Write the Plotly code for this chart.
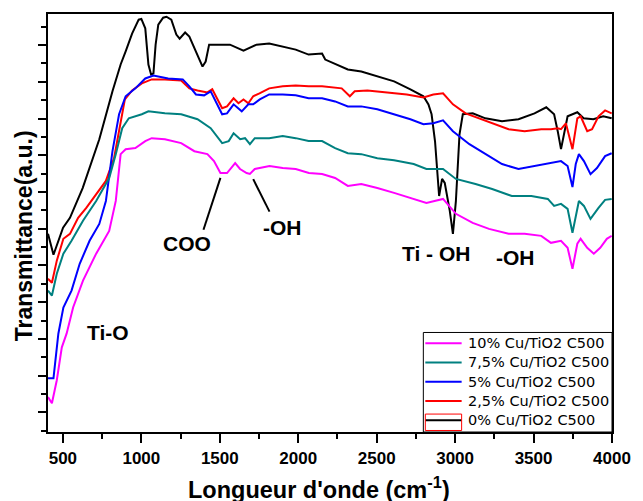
import plotly.graph_objects as go

# ---- data (wavenumber cm-1, transmittance a.u.) ----
wn_0 = [405, 440, 501, 545, 626, 732, 816, 868, 900, 941, 983, 1000, 1025, 1045, 1062, 1077, 1091, 1108,
        1139, 1160, 1191, 1223, 1244, 1279, 1306, 1338, 1369, 1390, 1410, 1432, 1484, 1565, 1651, 1734,
        1815, 1901, 1984, 2066, 2152, 2172, 2235, 2316, 2402, 2504, 2611, 2715, 2798, 2830, 2850, 2872,
        2898, 2917, 2934, 2966, 2986, 3005, 3028, 3049, 3112, 3193, 3299, 3404, 3506, 3581, 3631, 3654,
        3675, 3694, 3717, 3779, 3819, 3881, 3944, 3998]
t_0 = [10.72, 9.58, 11.05, 11.59, 13.21, 15.87, 18.48, 19.94, 20.65, 21.62, 22.38, 22.42, 21.91, 19.94,
       19.40, 19.45, 21.02, 22.11, 22.49, 22.54, 22.38, 21.57, 21.35, 21.68, 21.46, 20.81, 20.21, 19.83,
       20.10, 21.02, 21.02, 21.02, 20.70, 21.02, 21.08, 20.92, 20.75, 20.48, 20.54, 20.21, 19.99, 19.67,
       19.56, 19.29, 19.02, 18.59, 18.21, 17.77, 17.23, 15.76, 12.78, 13.71, 13.49, 11.97, 10.72, 12.51,
       16.14, 17.23, 17.28, 17.01, 16.85, 16.96, 17.28, 17.61, 17.23, 16.31, 15.33, 16.14, 17.12, 17.34,
       17.01, 16.96, 17.12, 17.01]

wn_25 = [405, 430, 461, 503, 545, 597, 649, 712, 774, 826, 868, 895, 941, 1003, 1066, 1150, 1254, 1306,
         1358, 1421, 1452, 1484, 1515, 1546, 1588, 1619, 1651, 1682, 1713, 1753, 1815, 1901, 1984, 2066,
         2152, 2277, 2329, 2360, 2441, 2567, 2692, 2798, 2861, 2923, 2986, 3067, 3153, 3236, 3341, 3443,
         3549, 3611, 3654, 3675, 3706, 3748, 3779, 3800, 3842, 3873, 3914, 3956, 3998]
t_25 = [8.27, 8.06, 9.26, 10.45, 10.72, 11.59, 12.13, 12.89, 13.60, 14.84, 16.69, 18.04, 18.53, 18.91,
        19.13, 19.13, 19.07, 18.64, 18.53, 18.42, 18.59, 18.10, 17.56, 17.66, 18.10, 17.83, 18.04, 17.83,
        18.21, 18.37, 18.64, 18.75, 18.80, 18.75, 18.75, 18.64, 18.21, 18.48, 18.53, 18.42, 18.31, 18.15,
        18.31, 18.37, 17.77, 17.28, 17.01, 16.74, 16.42, 16.31, 16.42, 16.42, 16.47, 16.42, 16.74, 15.33,
        17.01, 17.12, 16.31, 16.42, 17.12, 17.44, 17.28]

wn_5 = [405, 440, 471, 503, 555, 607, 670, 732, 774, 816, 858, 900, 962, 1025, 1077, 1171, 1264, 1306,
        1348, 1400, 1442, 1473, 1515, 1546, 1588, 1640, 1682, 1713, 1755, 1815, 1901, 1984, 2066, 2152,
        2235, 2316, 2402, 2504, 2611, 2715, 2798, 2861, 2923, 2986, 3091, 3193, 3299, 3404, 3506, 3611,
        3675, 3717, 3748, 3769, 3789, 3821, 3863, 3904, 3956, 3998]
t_5 = [2.86, 2.86, 5.28, 6.71, 7.63, 9.09, 10.34, 11.26, 12.51, 15.22, 17.23, 18.21, 18.64, 19.18, 19.34,
       19.18, 19.13, 18.75, 18.31, 18.26, 18.48, 17.93, 17.23, 17.28, 17.77, 17.39, 17.77, 17.77, 18.04,
       18.31, 18.31, 18.26, 18.10, 18.10, 17.93, 17.66, 17.66, 17.50, 17.23, 16.96, 16.69, 16.74, 16.90,
       16.31, 15.60, 15.06, 14.52, 14.25, 14.41, 14.57, 14.68, 14.41, 13.27, 14.52, 15.06, 14.68, 13.97,
       14.30, 14.95, 15.11]

wn_75 = [405, 430, 461, 503, 555, 628, 712, 795, 837, 878, 920, 1003, 1045, 1150, 1254, 1358, 1442, 1515,
         1557, 1588, 1630, 1661, 1692, 1723, 1815, 1901, 1984, 2066, 2152, 2235, 2316, 2402, 2504, 2611,
         2736, 2817, 2923, 3005, 3130, 3236, 3361, 3486, 3591, 3631, 3675, 3717, 3748, 3789, 3821, 3863,
         3914, 3956, 3998]
t_75 = [7.63, 7.36, 8.55, 9.64, 10.34, 11.43, 12.51, 13.76, 15.06, 16.47, 17.01, 17.23, 17.39, 17.28,
        17.23, 16.96, 16.47, 15.66, 15.77, 16.20, 15.87, 15.93, 15.60, 15.93, 15.93, 16.04, 15.93, 15.77,
        15.77, 15.39, 15.11, 15.06, 14.84, 14.73, 14.52, 14.25, 14.25, 13.71, 13.43, 13.16, 12.78, 12.78,
        12.62, 12.24, 12.35, 12.08, 10.78, 12.51, 12.24, 11.53, 12.13, 12.57, 12.62]

wn_10 = [405, 430, 461, 493, 524, 565, 628, 712, 795, 837, 868, 900, 962, 1025, 1066, 1150, 1254, 1338,
         1421, 1463, 1504, 1546, 1598, 1629, 1671, 1692, 1723, 1817, 1901, 1984, 2068, 2152, 2235, 2316,
         2402, 2504, 2611, 2715, 2817, 2923, 3005, 3112, 3216, 3341, 3443, 3549, 3611, 3675, 3717, 3748,
         3779, 3800, 3842, 3884, 3925, 3967, 3998]
t_10 = [1.83, 1.50, 2.75, 4.54, 5.30, 6.71, 8.17, 9.64, 10.88, 12.51, 15.06, 15.33, 15.39, 15.77, 15.93,
        15.87, 15.66, 15.22, 15.06, 14.68, 14.03, 14.03, 14.57, 14.25, 14.03, 13.98, 14.25, 14.41, 14.30,
        14.25, 14.03, 13.98, 13.76, 13.33, 13.43, 13.22, 12.95, 12.67, 12.40, 12.62, 11.81, 11.32, 10.99,
        10.72, 10.72, 10.61, 10.23, 10.34, 9.96, 8.82, 10.18, 10.45, 9.96, 9.64, 9.96, 10.45, 10.61]

series_names = ["0% Cu/TiO2 C500", "2,5% Cu/TiO2 C500", "5% Cu/TiO2 C500",
                "7,5% Cu/TiO2 C500", "10% Cu/TiO2 C500"]
series_x = [wn_0, wn_25, wn_5, wn_75, wn_10]
series_y = [t_0, t_25, t_5, t_75, t_10]
series_colors = ["#000000", "#FF0000", "#0000FF", "#008080", "#FF00FF"]

# band labels (text, wavenumber, transmittance)
band_labels = ["COO", "-OH", "Ti - OH", "-OH", "Ti-O"]
band_x = [1291, 1897, 2878, 3387, 787]
band_y = [10.18, 11.05, 9.65, 9.44, 5.37]
# pointer lines (from label to band)
ptr_x0 = [1396, 1817]
ptr_y0 = [10.94, 11.93]
ptr_x1 = [1504, 1713]
ptr_y1 = [13.77, 13.70]

FONT = "Liberation Sans, Arial, sans-serif"
LEG_FONT = "DejaVu Sans, Liberation Sans, sans-serif"

fig = go.Figure()
for nm, xs, ys, c in zip(series_names, series_x, series_y, series_colors):
    fig.add_trace(go.Scatter(x=xs, y=ys, mode="lines", name=nm, showlegend=False,
                             line=dict(color=c, width=2)))

for txt, bx, by in zip(band_labels, band_x, band_y):
    fig.add_annotation(x=bx, y=by, xref="x", yref="y", text=txt, showarrow=False,
                       font=dict(family=FONT, size=21, color="black", weight="bold"),
                       xanchor="center", yanchor="middle")

for x0, y0, x1, y1 in zip(ptr_x0, ptr_y0, ptr_x1, ptr_y1):
    fig.add_shape(type="line", xref="x", yref="y", x0=x0, y0=y0, x1=x1, y1=y1,
                  line=dict(color="black", width=2))

# ---- legend box (drawn in paper coordinates, Origin style) ----
leg_x0, leg_x1, leg_y0, leg_y1 = 0.6655, 1.0, 0.0, 0.2381
fig.add_shape(type="rect", xref="paper", yref="paper", x0=leg_x0, x1=leg_x1, y0=leg_y0, y1=leg_y1,
              line=dict(color="black", width=1), fillcolor="white", layer="above")
row_y = [0.2126, 0.1664, 0.1202, 0.0740, 0.0279]
leg_order = [4, 3, 2, 1, 0]  # 10% on top ... 0% at bottom
samp_x0, samp_x1, text_x = 0.669, 0.7334, 0.7404
for ry, idx in zip(row_y, leg_order):
    fig.add_shape(type="line", xref="paper", yref="paper", x0=samp_x0, x1=samp_x1, y0=ry, y1=ry,
                  line=dict(color=series_colors[idx], width=2), layer="above")
    fig.add_annotation(xref="paper", yref="paper", x=text_x, y=ry, text=series_names[idx],
                       showarrow=False, xanchor="left", yanchor="middle",
                       font=dict(family=LEG_FONT, size=14.5, color="black"))
# red frame around the 0% sample (as in the original)
fig.add_shape(type="rect", xref="paper", yref="paper", x0=samp_x0, x1=samp_x1, y0=0.0036, y1=0.0429,
              line=dict(color="#FF0000", width=1), layer="above")

# axis titles
fig.add_annotation(xref="paper", yref="paper", x=0.481, y=-0.135,
                   text="Longueur d'onde (cm<sup>-1</sup>)", showarrow=False,
                   font=dict(family=FONT, size=23.5, color="black", weight="bold"),
                   xanchor="center", yanchor="middle")
fig.add_annotation(xref="paper", yref="paper", x=-0.043, y=0.47,
                   text="Transmittance(a.u.)", showarrow=False, textangle=-90,
                   font=dict(family=FONT, size=23, color="black", weight="bold"),
                   xanchor="center", yanchor="middle")

fig.update_layout(
    width=643, height=501, autosize=False,
    margin=dict(l=48, r=21, t=12, b=69),
    paper_bgcolor="white", plot_bgcolor="white",
    showlegend=False,
    font=dict(family=FONT, color="black"),
)

fig.update_xaxes(range=[405, 4000], showgrid=False, zeroline=False,
                 showline=True, linecolor="black", linewidth=2, mirror=True,
                 ticks="outside", ticklen=9, tickwidth=1.5, tickcolor="black",
                 tick0=500, dtick=500,
                 minor=dict(dtick=250, ticks="outside", ticklen=5, tickcolor="black", tickwidth=1.5),
                 tickfont=dict(family=FONT, size=17, color="black", weight="bold"),
                 ticklabelstandoff=1)
fig.update_yaxes(range=[-0.07, 22.69], showgrid=False, zeroline=False,
                 showline=True, linecolor="black", linewidth=2, mirror=True,
                 ticks="outside", ticklen=8, tickwidth=1.5, tickcolor="black",
                 tick0=1, dtick=2, showticklabels=False,
                 minor=dict(dtick=1, ticks="outside", ticklen=5, tickcolor="black", tickwidth=1.5))

fig.write_html("out.html",
               config={"displayModeBar": False, "responsive": False},
               post_script="document.body.style.margin='0';document.body.style.padding='0';")
